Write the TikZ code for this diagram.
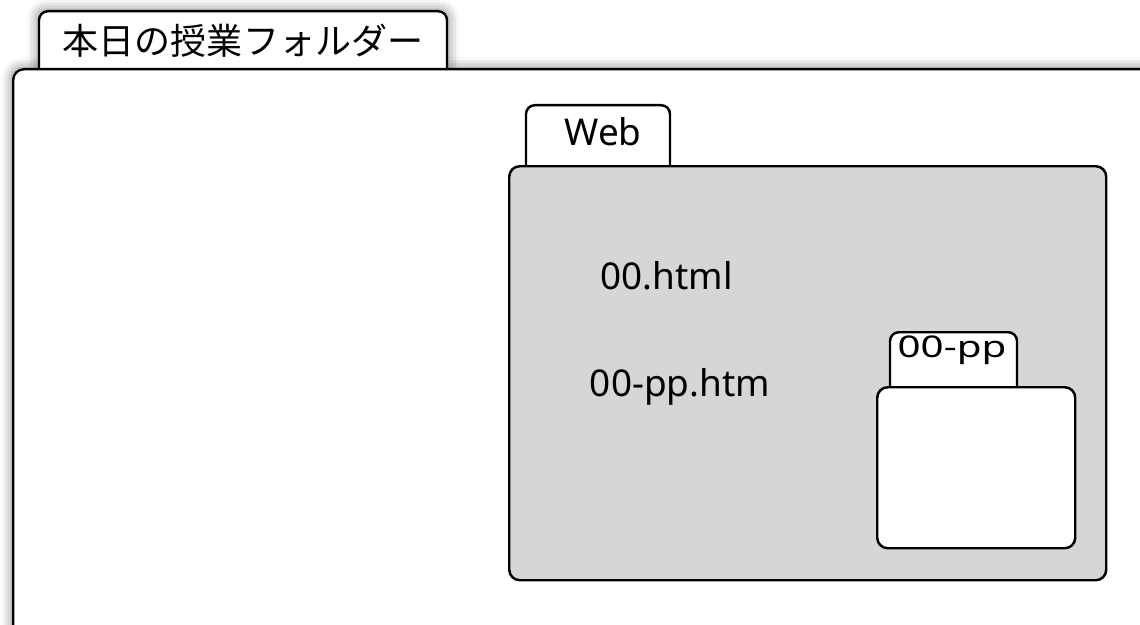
\documentclass[tikz,border=0pt]{standalone}
\usepackage{fontspec}
\setmainfont{Noto Sans}
\newfontfamily\jpfont{Noto Sans CJK JP}
\usetikzlibrary{shadows.blur}
\definecolor{folderGray}{RGB}{214,214,214}
\pgfdeclarelayer{background}
\pgfsetlayers{background,main}

\begin{document}
\begin{tikzpicture}
% Define styles
\tikzstyle{tab} = [rectangle, draw, line width=1.4pt, rounded corners=5pt, fill=white, inner sep=0pt]
\tikzstyle{folder} = [rectangle, draw, line width=1.4pt, rounded corners=6pt, fill=white, inner sep=0pt]
\tikzstyle{shade} = [fill=white, blur shadow={shadow xshift=0pt, shadow yshift=0pt, shadow blur radius=6pt, shadow opacity=50}]
\tikzstyle{lbl} = [inner sep=0pt, font=\fontsize{21}{25}\selectfont]
\useasboundingbox (0,0) rectangle (22.8,-12.5);
\clip (0,0) rectangle (22.8,-12.5);
% Outer folder
\node[tab, minimum width=8.16cm, minimum height=1.6cm, anchor=north] (todayTab) at (4.86,-0.2) {};
\node[lbl, font=\fontsize{20.5}{25}\jpfont] (todayLbl) at (4.86,-0.82) {本日の授業フォルダー};
\node[folder, minimum width=23.4cm, minimum height=11.8cm, anchor=north west] (today) at (0.24,-1.36) {};
% Web folder
\node[tab, minimum width=2.88cm, minimum height=1.5cm, anchor=north] (webTab) at (11.96,-2.08) {};
\node[lbl] (webLbl) at (12.06,-2.63) {Web};
\node[folder, fill=folderGray, minimum width=11.94cm, minimum height=8.28cm, anchor=north west] (web) at (10.16,-3.3) {};
\node[lbl] (html) at (13.33,-5.52) {00.html};
\node[lbl] (htm) at (13.6,-7.74) {00-pp.htm};
% 00-pp folder
\node[tab, minimum width=2.54cm, minimum height=1.3cm, anchor=north] (ppTab) at (19.07,-6.62) {};
\node[lbl, anchor=base, font=\fontsize{17}{20}\selectfont] (ppLbl) at (19.04,-7.15) {\scalebox{1.35}[1]{00-pp}};
\node[folder, minimum width=3.96cm, minimum height=3.22cm, anchor=north west] (pp) at (17.52,-7.72) {};
% Shadows of the outer folder
\begin{pgfonlayer}{background}
\path[shade, rounded corners=5pt] (todayTab.south west) rectangle (todayTab.north east);
\path[shade, rounded corners=6pt] (today.south west) rectangle (today.north east);
\end{pgfonlayer}
\end{tikzpicture}
\end{document}
